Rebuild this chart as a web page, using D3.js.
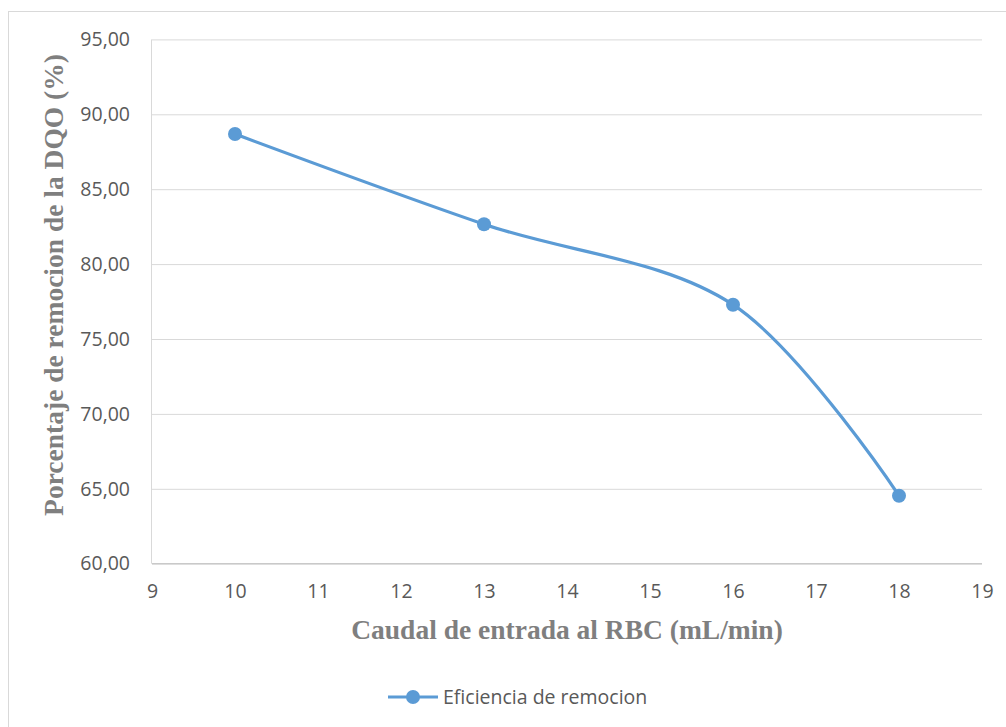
<!DOCTYPE html>
<html><head><meta charset="utf-8">
<script src="https://cdn.jsdelivr.net/npm/d3@7"></script>
<style>body{margin:0;background:#fff}svg{display:block}</style>
</head><body>
<script>
const caudal = [10, 13, 16, 18];
const eficiencia = [88.68, 82.66, 77.29, 64.54];
const xTicks = [9, 10, 11, 12, 13, 14, 15, 16, 17, 18, 19];
const yTicks = [60, 65, 70, 75, 80, 85, 90, 95];
const seriesName = "Eficiencia de remocion";
const xTitle = "Caudal de entrada al RBC (mL/min)";
const yTitle = "Porcentaje de remocion de la DQO (%)";

const W = 1006, H = 727;
const svg = d3.select("body").append("svg").attr("width", W).attr("height", H);
svg.append("rect").attr("x", 8.5).attr("y", 11.5).attr("width", 1100).attr("height", 800)
  .attr("fill", "#fff").attr("stroke", "#d9d9d9").attr("stroke-width", 1);

const x = d3.scaleLinear().domain([9, 19]).range([152, 982]);
const y = d3.scaleLinear().domain([60, 95]).range([563.7, 39.4]);

const tickFont = "'Open Sans', 'Noto Sans', sans-serif";
const tickSize = "19.5px";

// gridlines
svg.append("g").attr("transform", "translate(152,0)")
  .call(d3.axisLeft(y).tickValues(yTicks).tickSize(-830).tickFormat(""))
  .call(g => g.select(".domain").remove())
  .call(g => g.selectAll("line").attr("stroke", "#d9d9d9").attr("stroke-width", 1));

// y axis line
svg.append("line").attr("x1", 151.5).attr("x2", 151.5).attr("y1", y(95)).attr("y2", y(60))
  .attr("stroke", "#d9d9d9");
// x axis line
svg.append("line").attr("x1", 152).attr("x2", 982).attr("y1", y(60)).attr("y2", y(60))
  .attr("stroke", "#bfbfbf");

// y tick labels
svg.append("g").attr("transform", "translate(130,0)")
  .call(d3.axisLeft(y).tickValues(yTicks).tickSize(0).tickPadding(0)
    .tickFormat(d => d3.format(".2f")(d).replace(".", ",")))
  .call(g => g.select(".domain").remove())
  .call(g => g.selectAll("text").attr("fill", "#595959").style("font-family", tickFont).style("font-size", tickSize));

// x tick labels
svg.append("g").attr("transform", `translate(0,${y(60)})`)
  .call(d3.axisBottom(x).tickValues(xTicks).tickSize(0).tickPadding(20).tickFormat(d3.format("d")))
  .call(g => g.select(".domain").remove())
  .call(g => g.selectAll("text").attr("fill", "#595959").style("font-family", tickFont).style("font-size", tickSize));

// titles
const titleFont = "'Liberation Serif', 'Times New Roman', serif";
svg.append("text").attr("x", 567).attr("y", 639).attr("text-anchor", "middle")
  .style("font-family", titleFont).style("font-weight", "bold")
  .style("font-size", "27.5px").attr("fill", "#7f7f7f").text(xTitle);
svg.append("text").attr("transform", "translate(63,285) rotate(-90)").attr("text-anchor", "middle")
  .style("font-family", titleFont).style("font-weight", "bold")
  .style("font-size", "27.5px").attr("fill", "#7f7f7f").text(yTitle);

// series
const data = caudal.map((c, i) => ({x: c, y: eficiencia[i]}));
const color = "#5B9BD5";
svg.append("path").datum(data)
  .attr("d", d3.line().x(d => x(d.x)).y(d => y(d.y)).curve(d3.curveCatmullRom.alpha(0.5)))
  .attr("fill", "none").attr("stroke", color).attr("stroke-width", 3.2).attr("stroke-linecap", "round");
svg.selectAll("circle.pt").data(data).join("circle").attr("class", "pt")
  .attr("cx", d => x(d.x)).attr("cy", d => y(d.y)).attr("r", 7).attr("fill", color);

// legend
const lg = svg.append("g").attr("transform", "translate(388,697)");
lg.append("line").attr("x1", 0).attr("x2", 50).attr("y1", 0).attr("y2", 0).attr("stroke", color).attr("stroke-width", 3.2);
lg.append("circle").attr("cx", 25).attr("cy", 0).attr("r", 7).attr("fill", color);
lg.append("text").attr("x", 55).attr("y", 0).attr("dy", "0.35em").attr("fill", "#595959")
  .style("font-family", tickFont).style("font-size", tickSize).text(seriesName);
</script>
</body></html>
